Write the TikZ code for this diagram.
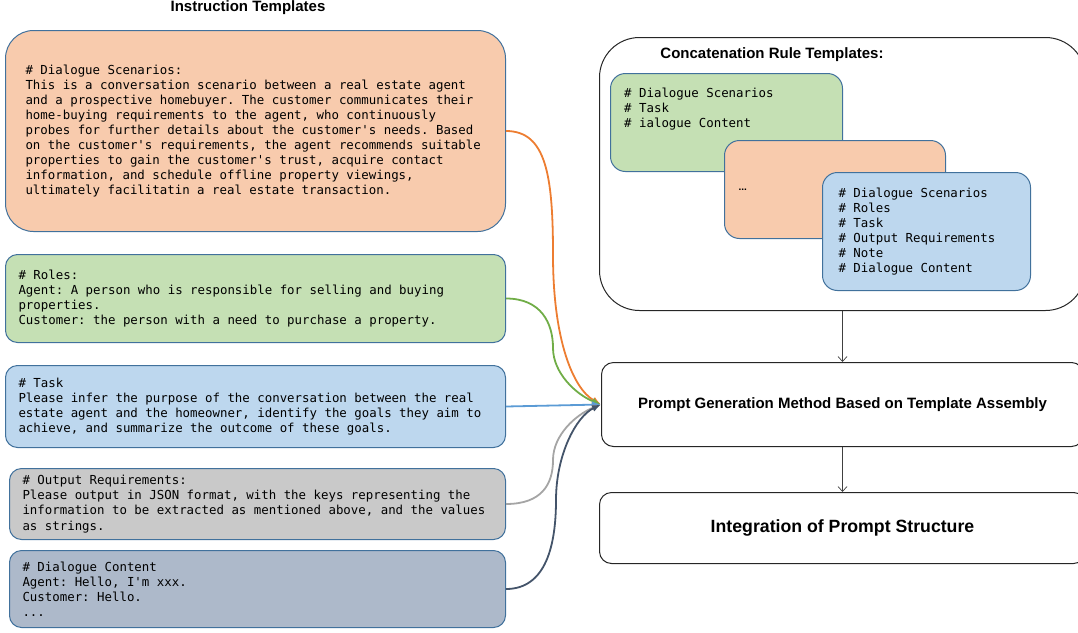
\documentclass[tikz,border=0pt]{standalone}
\usepackage{fontspec}
\setsansfont{Liberation Sans}
\newfontfamily\codefont{DejaVu Sans Mono}
\usetikzlibrary{positioning,arrows.meta}

\definecolor{scenFill}{HTML}{F8CBAD}
\definecolor{roleFill}{HTML}{C5E0B4}
\definecolor{taskFill}{HTML}{BDD7EE}
\definecolor{outFill}{HTML}{C9C9C9}
\definecolor{talkFill}{HTML}{ADB9CA}
\definecolor{edgeBlue}{HTML}{41719C}
\definecolor{flowOrange}{HTML}{ED7D31}
\definecolor{flowGreen}{HTML}{70AD47}
\definecolor{flowBlue}{HTML}{5B9BD5}
\definecolor{flowGray}{HTML}{A5A5A5}
\definecolor{flowDark}{HTML}{44546A}

\begin{document}
\begin{tikzpicture}[x=1pt,y=1pt,>=latex]

    %
    % Styles for templates, stages and flows
    %
    \tikzstyle{codeText} = [align=left, inner sep=0pt, font={\codefont\fontsize{12.4}{15.1}\selectfont},
                            execute at begin node={\frenchspacing\spaceskip=0pt\xspaceskip=0pt}]
    \tikzstyle{template} = [codeText, draw=edgeBlue, line width=1pt, rectangle, rounded corners=12pt,
                            inner xsep=13pt, minimum width=500pt, text width=474pt, anchor=north west]
    \tikzstyle{ruleCard} = [template, rounded corners=15pt, inner xsep=14pt]
    \tikzstyle{stageBox} = [draw=black!85, line width=1pt, rectangle, rounded corners=12pt, fill=white,
                            anchor=north west, font={\sffamily\bfseries\fontsize{15}{18}\selectfont}]
    \tikzstyle{heading} = [font={\sffamily\bfseries\fontsize{15}{18}\selectfont}, inner sep=0pt]
    \tikzstyle{mergeFlow} = [line width=1.8pt, -{Latex[length=9pt,width=7pt]}]
    \tikzstyle{stageFlow} = [draw=black!75, line width=0.7pt, -{Straight Barb[length=5pt,width=9pt]}]

    \useasboundingbox (0,0) rectangle (1078,-632);

    %
    % Instruction templates
    %
    \node[heading, name=leftTitle] at (248,-7.5) {Instruction Templates};
    \node[template, name=scenarios, fill=scenFill, rounded corners=28pt, inner xsep=20pt,
          text width=460pt, minimum height=201pt] at (5,-30)
      {\# Dialogue Scenarios:\\
       This is a conversation scenario between a real estate agent\\
       and a prospective homebuyer. The customer communicates their\\
       home-buying requirements to the agent, who continuously\\
       probes for further details about the customer's needs. Based\\
       on the customer's requirements, the agent recommends suitable\\
       properties to gain the customer's trust, acquire contact\\
       information, and schedule offline property viewings,\\
       ultimately facilitatin a real estate transaction.};
    \node[template, name=roles, fill=roleFill, minimum height=88pt,
          below right=22pt and 0pt of scenarios.south west]
      {\# Roles:\\
       Agent: A person who is responsible for selling and buying\\
       properties.\\
       Customer: the person with a need to purchase a property.};
    \node[template, name=task, fill=taskFill, minimum height=82pt,
          below right=22pt and 0pt of roles.south west]
      {\# Task\\
       Please infer the purpose of the conversation between the real\\
       estate agent and the homeowner, identify the goals they aim to\\
       achieve, and summarize the outcome of these goals.};
    \node[template, name=output, fill=outFill, minimum width=496pt, text width=470pt, minimum height=71pt,
          below right=20pt and 4pt of task.south west]
      {\# Output Requirements:\\
       Please output in JSON format, with the keys representing the\\
       information to be extracted as mentioned above, and the values\\
       as strings.};
    \node[template, name=content, fill=talkFill, minimum width=496pt, text width=470pt, minimum height=77pt,
          below right=10pt and 0pt of output.south west]
      {\# Dialogue Content\\
       Agent: Hello, I'm xxx.\\
       Customer: Hello.\\
       ...};

    %
    % Concatenation rules and stages
    %
    \node[stageBox, name=ruleFrame, rounded corners=40pt, minimum width=486pt, minimum height=273pt] at (599,-37) {};
    \node[heading, name=ruleTitle] at (772,-55) {Concatenation Rule Templates:};
    \node[ruleCard, name=ruleA, fill=roleFill, minimum width=232pt, text width=204pt, minimum height=98pt] at (610,-73) {};
    \node[codeText, name=ruleAText, anchor=north west] at ([shift={(14,-14.5)}]ruleA.north west)
      {\# Dialogue Scenarios\\
       \# Task\\
       \# ialogue Content};
    \node[ruleCard, name=ruleB, fill=scenFill, minimum width=221pt, text width=193pt, minimum height=98pt,
          font={\sffamily\bfseries}] at (724,-140) {...};
    \node[ruleCard, name=ruleC, fill=taskFill, minimum width=208pt, inner xsep=16pt, text width=176pt,
          minimum height=118pt] at (822,-172)
      {\# Dialogue Scenarios\\
       \# Roles\\
       \# Task\\
       \# Output Requirements\\
       \# Note\\
       \# Dialogue Content};

    \node[stageBox, name=generation, minimum width=482pt, minimum height=84pt] at (601,-362)
      {Prompt Generation Method Based on Template Assembly};
    \node[stageBox, name=integration, minimum width=486pt, minimum height=71pt,
          font={\sffamily\bfseries\fontsize{17.7}{21}\selectfont}] at (599,-492)
      {Integration of Prompt Structure};

    %
    % Connect templates and stages
    %
    \draw[mergeFlow, draw=flowOrange] (scenarios.east)
      .. controls +(40,0) and +(0,80) .. (553,-255)
      .. controls +(0,-85) and +(-28,16) .. (generation.west);
    \draw[mergeFlow, draw=flowGreen] (roles.east)
      .. controls +(35,0) and +(0,25) .. (553,-348)
      .. controls +(0,-25) and +(-25,10) .. (generation.west);
    \draw[mergeFlow, draw=flowBlue] (task.east) -- (generation.west);
    \draw[mergeFlow, draw=flowGray] (output.east)
      .. controls +(35,0) and +(0,-25) .. (553,-460)
      .. controls +(0,25) and +(-25,-10) .. (generation.west);
    \draw[mergeFlow, draw=flowDark] (content.east)
      .. controls +(40,0) and +(0,-45) .. (556,-500)
      .. controls +(0,45) and +(-25,-12) .. (generation.west);

    \draw[stageFlow] (ruleFrame.south) -- (generation.north);
    \draw[stageFlow] (generation.south) -- (integration.north);
  \end{tikzpicture}
\end{document}
